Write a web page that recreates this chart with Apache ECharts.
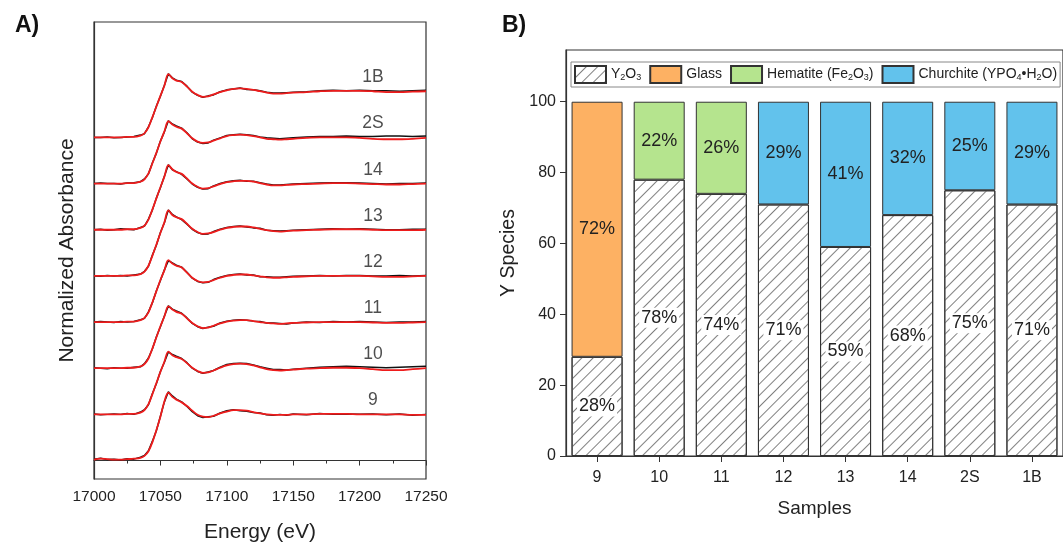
<!DOCTYPE html>
<html><head><meta charset="utf-8">
<script src="https://cdn.jsdelivr.net/npm/echarts@6/dist/echarts.min.js"></script>
<style>html,body{margin:0;padding:0;background:#fff}#c{width:1063px;height:548px}</style>
</head><body><div id="c"></div>
<script>
// ---------- Panel A data: XANES spectra (normalized absorbance) ----------
const energy = [17000,17005,17010,17015,17020,17025,17030,17035,17038,17041,17044,17047,17050,17053,17056,17059,17062,17066,17070,17074,17078,17082,17086,17090,17095,17100,17105,17110,17115,17120,17125,17130,17135,17140,17145,17150,17160,17170,17180,17190,17200,17210,17220,17230,17240,17250];
const sampleNames = ['9','10','11','12','13','14','2S','1B'];

const data9  = [0.03,0.05,0.02,0.03,0.01,0.04,0.03,0.07,0.11,0.21,0.42,0.65,0.96,1.27,1.49,1.40,1.33,1.27,1.17,1.06,0.97,0.93,0.95,0.96,1.03,1.08,1.10,1.08,1.07,1.04,1.03,0.99,0.98,1.00,0.98,1.01,0.99,1.02,1.00,1.01,1.00,1.01,0.99,1.01,0.98,1.00];
const fit9   = [0.02,0.04,0.03,0.02,0.02,0.03,0.04,0.06,0.10,0.20,0.40,0.66,0.95,1.28,1.47,1.38,1.32,1.26,1.18,1.08,0.99,0.95,0.94,0.97,1.02,1.06,1.09,1.09,1.08,1.05,1.02,1.00,0.99,0.99,0.99,1.00,1.00,1.01,1.01,1.01,1.00,1.00,1.00,1.00,0.99,0.99];
const data10 = [0.01,-0.01,0.00,0.01,0.00,0.02,0.00,0.05,0.10,0.21,0.45,0.67,0.93,1.13,1.35,1.30,1.26,1.21,1.12,1.00,0.93,0.89,0.92,0.95,1.02,1.08,1.10,1.11,1.10,1.07,1.03,1.00,0.97,0.97,0.96,0.98,1.00,1.02,1.03,1.04,1.03,1.02,1.01,1.02,1.03,1.04];
const fit10  = [0.00,0.00,0.00,0.00,0.00,0.01,0.01,0.04,0.09,0.22,0.44,0.68,0.92,1.14,1.36,1.28,1.24,1.20,1.11,1.01,0.94,0.90,0.91,0.95,1.01,1.06,1.09,1.10,1.09,1.06,1.02,0.98,0.96,0.95,0.96,0.97,0.99,1.00,1.01,1.01,1.00,0.98,0.96,0.96,0.98,1.00];
const data11 = [0.01,0.00,-0.01,0.01,0.00,0.00,0.02,0.03,0.10,0.22,0.42,0.68,0.90,1.13,1.35,1.28,1.24,1.19,1.09,0.97,0.90,0.86,0.89,0.91,0.98,1.02,1.04,1.05,1.04,1.02,1.01,0.98,0.98,0.97,0.96,0.98,1.00,0.99,1.01,1.00,1.01,1.00,0.99,1.00,1.00,1.01];
const fit11  = [0.00,0.00,0.00,0.00,0.00,0.01,0.01,0.04,0.09,0.21,0.43,0.67,0.91,1.12,1.34,1.27,1.22,1.18,1.08,0.98,0.91,0.87,0.88,0.92,0.97,1.01,1.03,1.04,1.04,1.02,1.00,0.98,0.97,0.96,0.97,0.98,0.99,1.00,1.00,1.00,1.00,0.99,0.98,0.98,0.99,1.00];
const data12 = [0.00,0.01,0.00,-0.01,0.01,0.00,0.01,0.05,0.08,0.22,0.42,0.68,0.90,1.13,1.33,1.28,1.23,1.19,1.08,0.95,0.88,0.85,0.86,0.92,0.97,1.01,1.03,1.04,1.02,1.02,0.98,0.98,0.97,0.97,0.98,0.99,1.00,1.01,1.00,1.01,1.01,1.00,1.00,1.01,1.00,1.01];
const fit12  = [0.00,0.00,0.00,0.00,0.00,0.01,0.01,0.04,0.09,0.21,0.43,0.67,0.91,1.12,1.34,1.27,1.22,1.18,1.07,0.96,0.89,0.86,0.87,0.91,0.96,1.00,1.02,1.03,1.03,1.01,0.99,0.97,0.96,0.96,0.97,0.98,0.99,1.00,1.00,1.00,1.00,0.99,0.98,0.98,0.99,1.00];
const data13 = [0.00,-0.01,0.01,0.00,0.01,0.00,0.02,0.04,0.10,0.21,0.45,0.67,0.94,1.15,1.43,1.33,1.28,1.22,1.12,1.01,0.94,0.90,0.91,0.96,1.01,1.05,1.07,1.08,1.06,1.04,1.03,0.99,0.98,0.97,0.98,0.99,1.00,1.01,1.02,1.01,1.02,1.01,1.00,1.00,1.01,1.01];
const fit13  = [0.00,0.00,0.00,0.00,0.00,0.01,0.01,0.04,0.09,0.22,0.44,0.68,0.93,1.16,1.42,1.32,1.27,1.23,1.13,1.02,0.95,0.91,0.92,0.95,1.00,1.04,1.06,1.07,1.07,1.05,1.02,0.99,0.97,0.96,0.97,0.98,0.99,1.00,1.01,1.01,1.01,1.00,0.99,0.99,0.99,1.00];
const data14 = [0.00,0.01,-0.01,0.00,0.02,0.01,0.00,0.05,0.08,0.23,0.43,0.69,0.91,1.16,1.41,1.30,1.26,1.20,1.10,0.99,0.92,0.88,0.89,0.95,1.00,1.04,1.06,1.07,1.05,1.05,1.02,0.99,0.97,0.97,0.98,0.99,1.00,1.01,1.02,1.02,1.01,1.00,0.99,1.00,1.00,1.01];
const fit14  = [0.00,0.00,0.00,0.00,0.00,0.01,0.01,0.04,0.09,0.22,0.44,0.68,0.92,1.15,1.40,1.31,1.25,1.21,1.11,1.00,0.93,0.89,0.90,0.94,0.99,1.03,1.05,1.06,1.06,1.04,1.01,0.98,0.96,0.96,0.97,0.98,0.99,1.00,1.01,1.01,1.00,0.99,0.98,0.98,0.99,1.00];
const data2S = [0.00,0.01,0.00,0.00,-0.01,0.01,0.02,0.04,0.10,0.21,0.45,0.66,0.92,1.12,1.36,1.29,1.25,1.20,1.10,0.97,0.90,0.87,0.88,0.94,0.99,1.04,1.06,1.07,1.06,1.04,1.01,0.99,0.98,0.97,0.98,0.99,1.01,1.02,1.02,1.03,1.02,1.02,1.03,1.03,1.02,1.03];
const fit2S  = [0.00,0.00,0.00,0.00,0.00,0.01,0.01,0.04,0.09,0.22,0.44,0.67,0.91,1.13,1.35,1.28,1.23,1.19,1.09,0.98,0.91,0.88,0.89,0.93,0.98,1.03,1.05,1.06,1.05,1.03,1.00,0.97,0.96,0.95,0.96,0.97,0.99,1.00,1.00,1.00,0.99,0.97,0.96,0.96,0.97,0.99];
const data1B = [0.00,0.00,0.01,-0.01,0.00,0.01,0.02,0.05,0.08,0.23,0.43,0.68,0.89,1.13,1.38,1.29,1.24,1.21,1.11,0.98,0.91,0.87,0.90,0.92,0.99,1.03,1.05,1.07,1.04,1.03,1.01,0.98,0.96,0.96,0.97,0.98,0.99,1.01,1.02,1.01,1.02,1.01,1.01,1.00,1.01,1.02];
const fit1B  = [0.00,0.00,0.00,0.00,0.00,0.01,0.01,0.04,0.09,0.22,0.44,0.67,0.90,1.12,1.37,1.28,1.23,1.20,1.10,0.99,0.92,0.88,0.89,0.93,0.98,1.02,1.05,1.06,1.05,1.03,1.00,0.97,0.95,0.95,0.96,0.97,0.98,1.00,1.01,1.01,1.01,1.00,0.98,0.98,0.99,1.00];

const measured = [data9,data10,data11,data12,data13,data14,data2S,data1B];
const fitted   = [fit9,fit10,fit11,fit12,fit13,fit14,fit2S,fit1B];

// ---------- Panel B data: Y species (%) ----------
const samples   = ['9','10','11','12','13','14','2S','1B'];
const y2o3      = [28,78,74,71,59,68,75,71];
const glass     = [72,'-','-','-','-','-','-','-'];
const hematite  = ['-',22,26,'-','-','-','-','-'];
const churchite = ['-','-','-',29,41,32,25,29];
const yTicks    = [0,20,40,60,80,100];

const FONT = 'Liberation Sans, Arial, sans-serif';
const TXT = '#222';

const series = [];
measured.forEach((arr, i) => {
  series.push({type:'line', xAxisIndex:0, yAxisIndex:0, symbol:'none', z:2,
    lineStyle:{color:'#111', width:1.5}, silent:true,
    data: energy.map((e, j) => [e, arr[j] + i])});
});
fitted.forEach((arr, i) => {
  series.push({type:'line', xAxisIndex:0, yAxisIndex:0, symbol:'none', z:3, smooth:0.35,
    lineStyle:{color:'#ee1c1c', width:1.8}, silent:true,
    data: energy.map((e, j) => [e, arr[j] + i])});
});
// sample labels on panel A
series.push({type:'scatter', xAxisIndex:0, yAxisIndex:0, symbolSize:0, z:5,
  label:{show:true, position:'inside', formatter:p => p.name, fontSize:17.5, color:TXT, fontFamily:FONT},
  data: sampleNames.map((s, i) => ({name:s, value:[17210, i + 1.3]}))});

const barBorder = {borderColor:'#333', borderWidth:1};
const pctLabel = {show:true, position:'inside', formatter:'{c}%', fontSize:18, color:TXT, fontFamily:FONT};
series.push({type:'bar', name:'Y2O3', stack:'s', xAxisIndex:1, yAxisIndex:1, barWidth:51, data:y2o3,
  itemStyle:Object.assign({color:'#fff', decal:{symbol:'rect', symbolSize:1, color:'#808080', dashArrayX:[1,0], dashArrayY:[1,7], rotation:-Math.PI/4}}, barBorder),
  label:Object.assign({}, pctLabel, {backgroundColor:'#fff', padding:[1,2]})});
series.push({type:'bar', name:'Glass', stack:'s', xAxisIndex:1, yAxisIndex:1, barWidth:51, data:glass,
  itemStyle:Object.assign({color:'#fdb163'}, barBorder), label:pctLabel});
series.push({type:'bar', name:'Hematite (Fe2O3)', stack:'s', xAxisIndex:1, yAxisIndex:1, barWidth:51, data:hematite,
  itemStyle:Object.assign({color:'#b5e48e'}, barBorder), label:pctLabel});
series.push({type:'bar', name:'Churchite (YPO4•H2O)', stack:'s', xAxisIndex:1, yAxisIndex:1, barWidth:51, data:churchite,
  itemStyle:Object.assign({color:'#62c2ec'}, barBorder), label:pctLabel});

const legendRich = {
  'Y2O3':'Y{s|2}O{s|3}',
  'Glass':'Glass',
  'Hematite (Fe2O3)':'Hematite (Fe{s|2}O{s|3})',
  'Churchite (YPO4•H2O)':'Churchite (YPO{s|4}•H{s|2}O)'
};

const option = {
  animation:false,
  textStyle:{fontFamily:FONT},
  title:[
    {text:'A)', left:10, top:9, textStyle:{fontSize:23, fontWeight:'bold', color:'#111', fontFamily:FONT}},
    {text:'B)', left:497, top:9, textStyle:{fontSize:23, fontWeight:'bold', color:'#111', fontFamily:FONT}}
  ],
  legend:{
    left:571, top:62, width:490, icon:'rect', itemWidth:31, itemHeight:17, itemGap:8, itemTextGap:5, padding:[3,3],
    borderColor:'#888', borderWidth:1, backgroundColor:'#fff',
    data:['Y2O3','Glass','Hematite (Fe2O3)','Churchite (YPO4•H2O)'],
    formatter:n => legendRich[n],
    textStyle:{fontSize:14, color:TXT, fontFamily:FONT,
      rich:{s:{fontSize:9, color:TXT, fontFamily:FONT, verticalAlign:'bottom', padding:[6,0,0,0]}}}
  },
  grid:[
    {left:94, top:22, width:332, height:462, show:true, borderColor:'#333', borderWidth:1.2},
    {left:566, top:50, width:500, height:406, show:true, borderColor:'#333', borderWidth:1.2}
  ],
  xAxis:[
    {type:'value', gridIndex:0, min:17000, max:17250, interval:50,
      axisLine:{show:true, lineStyle:{color:'#333', width:1.2}},
      axisTick:{show:true, length:5, lineStyle:{color:'#333'}},
      minorTick:{show:true, splitNumber:2, length:3, lineStyle:{color:'#333'}},
      splitLine:{show:false},
      axisLabel:{fontSize:15.5, color:TXT, margin:10, fontFamily:FONT, formatter:v => String(v)},
      name:'Energy (eV)', nameLocation:'middle', nameGap:43,
      nameTextStyle:{fontSize:21, color:TXT, fontFamily:FONT}},
    {type:'category', gridIndex:1, data:samples,
      axisLine:{show:true, lineStyle:{color:'#333', width:1.2}},
      axisTick:{show:true, alignWithLabel:true, length:6, lineStyle:{color:'#333'}},
      axisLabel:{fontSize:16, color:TXT, margin:14, fontFamily:FONT},
      name:'Samples', nameLocation:'middle', nameGap:43,
      nameTextStyle:{fontSize:19, color:TXT, fontFamily:FONT}}
  ],
  yAxis:[
    {type:'value', gridIndex:0, min:-0.4, max:9.5,
      axisLine:{show:true, lineStyle:{color:'#333', width:1.2}},
      axisTick:{show:false}, axisLabel:{show:false}, splitLine:{show:false},
      name:'Normalized Absorbance', nameLocation:'middle', nameGap:16,
      nameTextStyle:{fontSize:21, color:TXT, fontFamily:FONT}},
    {type:'value', gridIndex:1, min:yTicks[0], max:114.6, interval:20,
      axisLine:{show:true, lineStyle:{color:'#333', width:1.2}},
      axisTick:{show:true, length:6, lineStyle:{color:'#333'}},
      axisLabel:{fontSize:16, color:TXT, margin:10, showMaxLabel:false, fontFamily:FONT,
        formatter:v => (yTicks.indexOf(v) >= 0 ? String(v) : '')},
      splitLine:{show:false},
      name:'Y Species', nameLocation:'middle', nameGap:47,
      nameTextStyle:{fontSize:19.5, color:TXT, fontFamily:FONT}}
  ],
  series:series
};
const chart = echarts.init(document.getElementById('c'), null, {renderer:'canvas'});
chart.setOption(option);
</script></body></html>
